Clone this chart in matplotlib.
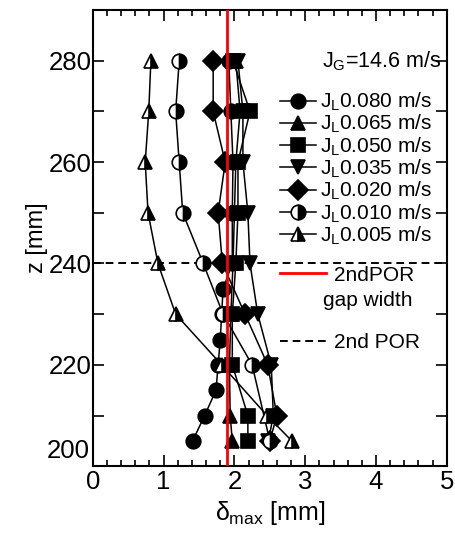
import matplotlib
matplotlib.use("Agg")
import matplotlib.pyplot as plt
from matplotlib.ticker import MultipleLocator, FuncFormatter

plt.rcParams['font.family'] = ['Liberation Sans', 'DejaVu Sans']
plt.rcParams['mathtext.fontset'] = 'custom'
plt.rcParams['mathtext.rm'] = 'Liberation Sans'
plt.rcParams['mathtext.it'] = 'Liberation Sans'

labels = ["J$_\\mathrm{L}$0.080 m/s", "J$_\\mathrm{L}$0.065 m/s", "J$_\\mathrm{L}$0.050 m/s",
          "J$_\\mathrm{L}$0.035 m/s", "J$_\\mathrm{L}$0.020 m/s", "J$_\\mathrm{L}$0.010 m/s",
          "J$_\\mathrm{L}$0.005 m/s"]

z_080 = [205, 210, 215, 220, 225, 230, 235, 240, 250, 260, 270, 280]
d_080 = [1.41, 1.58, 1.74, 1.77, 1.80, 1.82, 1.84, 1.97, 1.97, 1.98, 1.95, 1.92]

z_std = [205, 210, 220, 230, 240, 250, 260, 270, 280]
d_065 = [1.97, 1.94, 1.93, 1.95, 1.98, 2.00, 2.02, 2.08, 2.02]
d_050 = [2.19, 2.19, 1.97, 1.97, 2.02, 2.05, 2.05, 2.22, 1.98]
d_035 = [2.48, 2.55, 2.52, 2.33, 2.22, 2.19, 2.12, 2.12, 2.05]
d_020 = [2.50, 2.60, 2.47, 2.15, 1.83, 1.77, 1.87, 1.70, 1.70]

z_010 = [205, 220, 230, 240, 250, 260, 270, 280]
d_010 = [2.50, 2.25, 1.84, 1.56, 1.27, 1.22, 1.17, 1.22]

d_005 = [2.81, 2.46, 1.82, 1.17, 0.92, 0.78, 0.74, 0.79, 0.82]

gap_width = 1.90
por_z = 240
jg_text = "J$_\\mathrm{G}$=14.6 m/s"
y_min, y_max = 200, 290

fig = plt.figure(figsize=(4.55, 5.34), dpi=100)
ax = fig.add_axes([0.204, 0.127, 0.778, 0.854])

lw = 1.1
ms = 10.5
series = [
    (d_080, z_080, dict(marker='o', ms=ms, mfc='black')),
    (d_065, z_std, dict(marker='^', ms=ms, mfc='black')),
    (d_050, z_std, dict(marker='s', ms=ms, mfc='black')),
    (d_035, z_std, dict(marker='v', ms=ms, mfc='black')),
    (d_020, z_std, dict(marker='D', ms=ms, mfc='black')),
    (d_010, z_010, dict(marker='o', ms=ms, mfc='black', fillstyle='right', markerfacecoloralt='white')),
    (d_005, z_std, dict(marker='^', ms=ms, mfc='black', fillstyle='right', markerfacecoloralt='white')),
]
handles = []
for (x, z, kw), lab in zip(series, labels):
    h, = ax.plot(x, z, color='black', lw=lw, mec='black', mew=1.2, label=lab, zorder=3, **kw)
    handles.append(h)

red = ax.axvline(gap_width, color='red', lw=2.0, zorder=4, label="2ndPOR")
dash = ax.axhline(por_z, color='black', lw=1.4, ls=(0, (4, 2.5)), zorder=2, label="2nd POR")

ax.set_xlim(0, 5)
ax.set_ylim(y_min, y_max)
ax.xaxis.set_major_locator(MultipleLocator(1))
ax.xaxis.set_minor_locator(MultipleLocator(0.2))
ax.yaxis.set_major_locator(MultipleLocator(20))
ax.yaxis.set_minor_locator(MultipleLocator(10))
ax.yaxis.set_major_formatter(FuncFormatter(lambda v, p: '' if abs(v - y_min) < 1e-6 else f"{v:.0f}"))
ax.tick_params(which='both', direction='in', top=True, right=True, width=1.2)
ax.tick_params(which='major', length=8, labelsize=18.5)
ax.tick_params(axis='x', which='major', pad=3)
ax.tick_params(axis='y', which='major', pad=1)
ax.tick_params(axis='x', which='minor', length=4)
ax.tick_params(axis='y', which='minor', length=8)
for sp in ax.spines.values():
    sp.set_linewidth(1.5)

# lowest y tick label raised slightly so it clears the x "0" label (as in the reference)
ax.annotate(f"{y_min}", xy=(0, y_min), xycoords=('axes fraction', 'data'),
            xytext=(-2, 11), textcoords='offset points', ha='right', va='center',
            fontsize=18.5)

ax.set_xlabel("$\\delta_\\mathrm{max}$ [mm]", fontsize=18, labelpad=3)
ax.set_ylabel("z [mm]", fontsize=17, labelpad=0)

ax.text(4.93, 280, jg_text, ha='right', va='center', fontsize=15.5)

leg1 = ax.legend(handles=handles, loc='upper left', bbox_to_anchor=(0.53, 0.823),
                 fontsize=15, frameon=False, handlelength=1.7, handletextpad=0.2,
                 labelspacing=0.0, borderpad=0, borderaxespad=0)
ax.add_artist(leg1)
leg2 = ax.legend(handles=[red, dash], loc='upper left', bbox_to_anchor=(0.53, 0.44),
                 fontsize=15, frameon=False, handlelength=2.2, handletextpad=0.35,
                 labelspacing=2.35, borderpad=0, borderaxespad=0)
ax.text(0.777, 0.364, "gap width", transform=ax.transAxes, ha='center', va='center', fontsize=15)

fig.savefig("out.png", dpi=100)
